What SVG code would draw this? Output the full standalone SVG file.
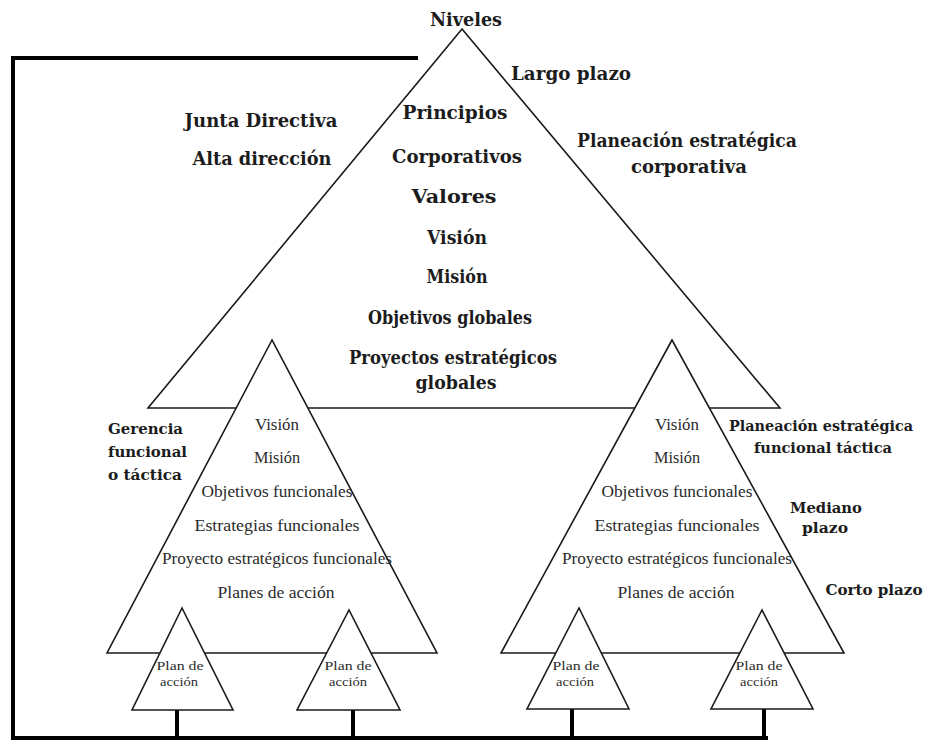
<svg xmlns="http://www.w3.org/2000/svg" width="928" height="740" viewBox="0 0 928 740">
<style>
.tri{fill:#fff;stroke:#1a1a1a;stroke-width:1.6;stroke-linejoin:miter}
.frame{fill:none;stroke:#000;stroke-width:4;stroke-linecap:square}
.b{font-family:"DejaVu Serif","Liberation Serif",serif;font-weight:bold;font-size:19px;fill:#1c1c1c;text-anchor:middle}
.m{font-family:"DejaVu Serif","Liberation Serif",serif;font-weight:bold;font-size:15.5px;fill:#1c1c1c}
.s{font-family:"Liberation Serif","Times New Roman",serif;font-size:16px;fill:#2a2a2a;text-anchor:middle}
.t{font-family:"Liberation Serif","Times New Roman",serif;font-size:13px;fill:#2a2a2a;text-anchor:middle}
</style>
<rect width="928" height="740" fill="#fff"/>
<g id="connectors">
<polyline class="frame" points="416,58 13,58 13,738 766,738"/>
<line class="frame" x1="177" y1="710" x2="177" y2="738"/>
<line class="frame" x1="353" y1="710" x2="353" y2="738"/>
<line class="frame" x1="572" y1="710" x2="572" y2="738"/>
<line class="frame" x1="764" y1="710" x2="764" y2="738"/>
</g>
<g id="nivel-corporativo">
<polygon class="tri" points="462,29 148,408 780,408"/>
<text class="b" x="466" y="26" textLength="72" lengthAdjust="spacingAndGlyphs">Niveles</text>
<text class="b" x="455" y="119" textLength="105" lengthAdjust="spacingAndGlyphs">Principios</text>
<text class="b" x="457" y="163" textLength="130" lengthAdjust="spacingAndGlyphs">Corporativos</text>
<text class="b" x="454" y="203" textLength="85" lengthAdjust="spacingAndGlyphs">Valores</text>
<text class="b" x="457" y="244" textLength="60" lengthAdjust="spacingAndGlyphs">Visión</text>
<text class="b" x="457" y="283" textLength="61" lengthAdjust="spacingAndGlyphs">Misión</text>
<text class="b" x="450" y="324" textLength="164" lengthAdjust="spacingAndGlyphs">Objetivos globales</text>
<text class="b" x="453" y="364" textLength="208" lengthAdjust="spacingAndGlyphs">Proyectos  estratégicos</text>
<text class="b" x="456" y="389" textLength="81" lengthAdjust="spacingAndGlyphs">globales</text>
</g>
<g id="etiquetas-corporativo">
<text class="b" x="571" y="80" textLength="120" lengthAdjust="spacingAndGlyphs">Largo plazo</text>
<text class="b" x="261" y="127" textLength="153" lengthAdjust="spacingAndGlyphs">Junta Directiva</text>
<text class="b" x="262" y="165" textLength="139" lengthAdjust="spacingAndGlyphs">Alta dirección</text>
<text class="b" x="687" y="147" textLength="220" lengthAdjust="spacingAndGlyphs">Planeación estratégica</text>
<text class="b" x="689" y="173" textLength="116" lengthAdjust="spacingAndGlyphs">corporativa</text>
</g>
<g id="nivel-funcional-izq">
<polygon class="tri" points="272,340 107,653 437,653"/>
<text class="s" x="277" y="430" textLength="44" lengthAdjust="spacingAndGlyphs">Visión</text>
<text class="s" x="277" y="463" textLength="46" lengthAdjust="spacingAndGlyphs">Misión</text>
<text class="s" x="277" y="497" textLength="151" lengthAdjust="spacingAndGlyphs">Objetivos funcionales</text>
<text class="s" x="277" y="531" textLength="165" lengthAdjust="spacingAndGlyphs">Estrategias  funcionales</text>
<text class="s" x="277" y="564" textLength="230" lengthAdjust="spacingAndGlyphs">Proyecto estratégicos funcionales</text>
<text class="s" x="276" y="598" textLength="117" lengthAdjust="spacingAndGlyphs">Planes de acción</text>
</g>
<g id="nivel-funcional-der">
<polygon class="tri" points="672,340 501,653 844,653"/>
<text class="s" x="677" y="430" textLength="44" lengthAdjust="spacingAndGlyphs">Visión</text>
<text class="s" x="677" y="463" textLength="46" lengthAdjust="spacingAndGlyphs">Misión</text>
<text class="s" x="677" y="497" textLength="151" lengthAdjust="spacingAndGlyphs">Objetivos funcionales</text>
<text class="s" x="677" y="531" textLength="165" lengthAdjust="spacingAndGlyphs">Estrategias  funcionales</text>
<text class="s" x="677" y="564" textLength="230" lengthAdjust="spacingAndGlyphs">Proyecto estratégicos funcionales</text>
<text class="s" x="676" y="598" textLength="117" lengthAdjust="spacingAndGlyphs">Planes de acción</text>
</g>
<g id="etiquetas-funcional">
<text class="m" x="108" y="434" textLength="75" lengthAdjust="spacingAndGlyphs">Gerencia</text>
<text class="m" x="108" y="457" textLength="79" lengthAdjust="spacingAndGlyphs">funcional</text>
<text class="m" x="108" y="480" textLength="74" lengthAdjust="spacingAndGlyphs">o táctica</text>
<text class="m" x="821" y="431" text-anchor="middle" textLength="184" lengthAdjust="spacingAndGlyphs">Planeación estratégica</text>
<text class="m" x="823" y="453" text-anchor="middle" textLength="138" lengthAdjust="spacingAndGlyphs">funcional táctica</text>
<text class="m" x="826" y="513" text-anchor="middle" textLength="72" lengthAdjust="spacingAndGlyphs">Mediano</text>
<text class="m" x="825" y="533" text-anchor="middle" textLength="46" lengthAdjust="spacingAndGlyphs">plazo</text>
<text class="m" x="874" y="595" text-anchor="middle" textLength="97" lengthAdjust="spacingAndGlyphs">Corto plazo</text>
</g>
<g id="plan-accion-1">
<polygon class="tri" points="182,608 132,710 233,710"/>
<text class="t" x="180" y="670" textLength="47" lengthAdjust="spacingAndGlyphs">Plan de</text>
<text class="t" x="179" y="686" textLength="38" lengthAdjust="spacingAndGlyphs">acción</text>
</g>
<g id="plan-accion-2">
<polygon class="tri" points="349,610 297,710 400,710"/>
<text class="t" x="348" y="670" textLength="47" lengthAdjust="spacingAndGlyphs">Plan de</text>
<text class="t" x="348" y="686" textLength="38" lengthAdjust="spacingAndGlyphs">acción</text>
</g>
<g id="plan-accion-3">
<polygon class="tri" points="579,608 527,709 629,709"/>
<text class="t" x="576" y="670" textLength="47" lengthAdjust="spacingAndGlyphs">Plan de</text>
<text class="t" x="575" y="686" textLength="38" lengthAdjust="spacingAndGlyphs">acción</text>
</g>
<g id="plan-accion-4">
<polygon class="tri" points="762,610 711,709 813,709"/>
<text class="t" x="759" y="670" textLength="47" lengthAdjust="spacingAndGlyphs">Plan de</text>
<text class="t" x="759" y="686" textLength="38" lengthAdjust="spacingAndGlyphs">acción</text>
</g>
</svg>
